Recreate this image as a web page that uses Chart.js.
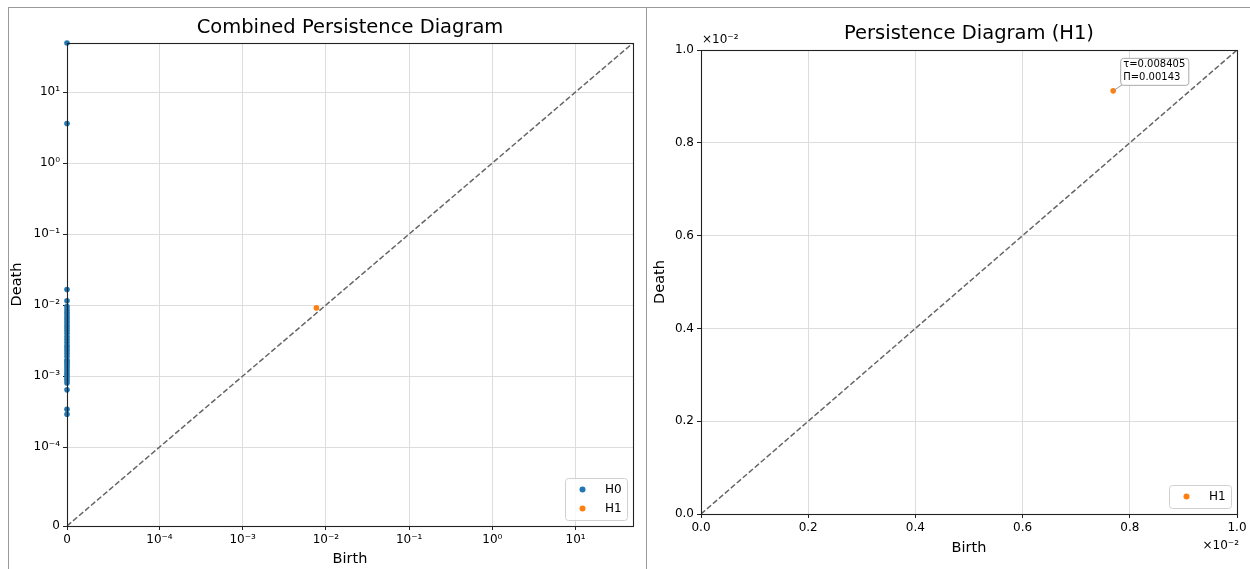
<!DOCTYPE html>
<html>
<head>
<meta charset="utf-8">
<script src="https://cdn.jsdelivr.net/npm/chart.js@4.4.1/dist/chart.umd.min.js"></script>
<style>
  body { margin: 0; background: #fff; width: 1250px; height: 569px; overflow: hidden; position: relative; }
  .line { position: absolute; background: #9a9a9a; }
  .panel { position: absolute; top: 8px; }
</style>
</head>
<body>
<div class="line" style="left:8px;top:7px;width:1242px;height:1px"></div>
<div class="line" style="left:8px;top:7px;width:1px;height:562px"></div>
<div class="line" style="left:646px;top:7px;width:1px;height:562px"></div>
<div class="panel" style="left:9px"><canvas id="combined" width="636" height="561"></canvas></div>
<div class="panel" style="left:647px"><canvas id="h1only" width="603" height="561"></canvas></div>
<script>
// Donnees
const h0Deaths = [49, 3.6, 0.0165, 0.0115, 0.0095, 0.0086, 0.0079, 0.0073, 0.0067, 0.0062,
  0.0057, 0.0052, 0.0048, 0.0044, 0.0040, 0.0036, 0.0033, 0.0030, 0.0027, 0.0025, 0.0023,
  0.0021, 0.0019, 0.0017, 0.0016, 0.0015, 0.0014, 0.0013, 0.0012, 0.0011, 0.00102,
  0.00094, 0.00087, 0.00080, 0.00064, 0.00034, 0.00029];
const h0Births = h0Deaths.map(() => 0);
const h1Births = [0.00769];
const h1Deaths = [0.00912];

const combinedMax = 49;
const combinedTicks = [0, 1e-4, 1e-3, 1e-2, 1e-1, 1, 10];
const combinedTickLabels = ['0', '10⁻⁴', '10⁻³', '10⁻²', '10⁻¹', '10⁰', '10¹'];

const h1Max = 0.01;
const h1Ticks = [0, 0.002, 0.004, 0.006, 0.008, 0.01];
const h1TickLabels = ['0.0', '0.2', '0.4', '0.6', '0.8', '1.0'];

const BLUE = '#1f77b4';
const ORANGE = '#ff7f0e';
const FONT = '"DejaVu Sans", sans-serif';

// echelle symlog (linthresh 1e-4, comme matplotlib)
const LINTHRESH = 1e-4;
const LINSCALE = 1 / (1 - 1 / 10);
function symlog(v) {
  const a = Math.abs(v);
  if (a <= LINTHRESH) return v / LINTHRESH * LINSCALE;
  return Math.sign(v) * (LINSCALE + Math.log10(a / LINTHRESH));
}
function symexp(t) {
  const a = Math.abs(t);
  if (a <= LINSCALE) return t / LINSCALE * LINTHRESH;
  return Math.sign(t) * LINTHRESH * Math.pow(10, a - LINSCALE);
}

class SymlogScale extends Chart.LinearScale {
  static id = 'symlog';
  getPixelForValue(value) {
    const t0 = symlog(this.min), t1 = symlog(this.max);
    return this.getPixelForDecimal((symlog(value) - t0) / (t1 - t0));
  }
  getValueForPixel(pixel) {
    const t0 = symlog(this.min), t1 = symlog(this.max);
    return symexp(t0 + this.getDecimalForPixel(pixel) * (t1 - t0));
  }
}
Chart.register(SymlogScale);

function toPoints(xs, ys) {
  return xs.map((x, i) => ({ x: x, y: ys[i] }));
}

// titre, cadre, legende interne, annotations
const decorPlugin = {
  id: 'decor',
  afterDraw(chart, args, opts) {
    const ctx = chart.ctx;
    const a = chart.chartArea;
    ctx.save();
    // cadre
    ctx.strokeStyle = '#222';
    ctx.lineWidth = 1.1;
    ctx.strokeRect(Math.round(a.left) + 0.5, Math.round(a.top) + 0.5,
      Math.round(a.right - a.left), Math.round(a.bottom - a.top));
    // titre
    ctx.fillStyle = '#000';
    ctx.font = '19.5px ' + FONT;
    ctx.textAlign = 'center';
    ctx.textBaseline = 'middle';
    ctx.fillText(opts.title, (a.left + a.right) / 2, opts.titleY);

    // legende
    const items = chart.data.datasets.filter(d => d.inLegend);
    const w = 62, h = 4 + 19 * items.length;
    const bx = a.right - 6 - w, by = a.bottom - 6 - h;
    ctx.beginPath();
    ctx.roundRect(bx + 0.5, by + 0.5, w, h, 3);
    ctx.fillStyle = 'rgba(255,255,255,0.8)';
    ctx.fill();
    ctx.strokeStyle = '#d0d0d0';
    ctx.lineWidth = 1;
    ctx.stroke();
    ctx.font = '12px ' + FONT;
    ctx.textAlign = 'left';
    items.forEach((d, i) => {
      const cy = by + 11.5 + 19 * i;
      ctx.beginPath();
      ctx.arc(bx + 17.5, cy, 3, 0, Math.PI * 2);
      ctx.fillStyle = d.backgroundColor;
      ctx.fill();
      ctx.fillStyle = '#000';
      ctx.fillText(d.label, bx + 40, cy);
    });

    // facteur d'echelle x10^-2
    if (opts.offsetText) {
      ctx.font = '12px ' + FONT;
      ctx.fillStyle = '#000';
      ctx.textAlign = 'left';
      ctx.fillText(opts.offsetText, a.left + 1, a.top - 10);
      ctx.textAlign = 'right';
      ctx.fillText(opts.offsetText, a.right + 2, a.bottom + 32);
    }

    // annotation tau / Pi
    if (opts.annotate) {
      const xs = chart.scales.x, ys = chart.scales.y;
      h1Births.forEach((b, i) => {
        const d = h1Deaths[i];
        const px = xs.getPixelForValue(b), py = ys.getPixelForValue(d);
        const lines = ['τ=' + ((b + d) / 2).toFixed(6), 'Π=' + (d - b).toFixed(5)];
        ctx.font = '10px ' + FONT;
        const tw = Math.max(...lines.map(l => ctx.measureText(l).width));
        const left = px + 7, bottom = py - 6, bw = tw + 6, bh = 27;
        ctx.beginPath();
        ctx.moveTo(px, py);
        ctx.lineTo(left + 2, bottom);
        ctx.strokeStyle = '#999';
        ctx.lineWidth = 1;
        ctx.stroke();
        ctx.beginPath();
        ctx.roundRect(left + 0.5, bottom - bh + 0.5, bw, bh, 3);
        ctx.fillStyle = '#fff';
        ctx.fill();
        ctx.strokeStyle = '#aaa';
        ctx.stroke();
        ctx.fillStyle = '#000';
        ctx.textAlign = 'left';
        ctx.textBaseline = 'middle';
        ctx.fillText(lines[0], left + 3, bottom - bh + 7);
        ctx.fillText(lines[1], left + 3, bottom - bh + 19.5);
      });
    }
    ctx.restore();
  }
};

function axis(type, max, ticks, labels, titleText, titlePad, size, isX) {
  return {
    type: type,
    min: 0,
    max: max,
    afterBuildTicks: s => { s.ticks = ticks.map(v => ({ value: v })); },
    afterFit: s => { if (isX) s.height = size; else s.width = size; },
    border: { display: false },
    grid: { color: '#dddddd', lineWidth: 1, tickColor: '#222', tickLength: 4 },
    ticks: {
      autoSkip: false,
      maxRotation: 0,
      padding: 3,
      color: '#000',
      font: { family: FONT, size: 12 },
      callback: (v, i) => labels[i]
    },
    title: {
      display: true,
      text: titleText,
      color: '#000',
      font: { family: FONT, size: 14.5 },
      padding: titlePad
    }
  };
}

const commonPlugins = { legend: { display: false }, tooltip: { enabled: false } };

new Chart(document.getElementById('combined'), {
  type: 'scatter',
  data: {
    datasets: [
      { label: 'H0', inLegend: true, data: toPoints(h0Births, h0Deaths), backgroundColor: BLUE,
        pointRadius: 2.8, borderWidth: 0, clip: false },
      { label: 'H1', inLegend: true, data: toPoints(h1Births, h1Deaths), backgroundColor: ORANGE,
        pointRadius: 2.8, borderWidth: 0, clip: false },
      { label: 'diag', data: toPoints([0, combinedMax], [0, combinedMax]), showLine: true,
        pointRadius: 0, borderColor: '#666', borderWidth: 1.5, borderDash: [5.5, 2.4] }
    ]
  },
  options: {
    responsive: false,
    animation: false,
    events: [],
    layout: { padding: { top: 35, right: 12, left: 0, bottom: 0 } },
    scales: {
      x: axis('symlog', combinedMax, combinedTicks, combinedTickLabels, 'Birth', { top: 0, bottom: 1 }, 43, true),
      y: axis('symlog', combinedMax, combinedTicks, combinedTickLabels, 'Death', { top: 0, bottom: 0 }, 58, false)
    },
    plugins: Object.assign({}, commonPlugins, {
      decor: { title: 'Combined Persistence Diagram', titleY: 20 }
    })
  },
  plugins: [decorPlugin]
});

new Chart(document.getElementById('h1only'), {
  type: 'scatter',
  data: {
    datasets: [
      { label: 'H1', inLegend: true, data: toPoints(h1Births, h1Deaths), backgroundColor: ORANGE,
        pointRadius: 2.8, borderWidth: 0, clip: false },
      { label: 'diag', data: toPoints([0, h1Max], [0, h1Max]), showLine: true,
        pointRadius: 0, borderColor: '#666', borderWidth: 1.5, borderDash: [5.5, 2.4] }
    ]
  },
  options: {
    responsive: false,
    animation: false,
    events: [],
    layout: { padding: { top: 42, right: 13, left: 0, bottom: 0 } },
    scales: {
      x: axis('linear', h1Max, h1Ticks, h1TickLabels, 'Birth', { top: 0, bottom: 12 }, 55, true),
      y: axis('linear', h1Max, h1Ticks, h1TickLabels, 'Death', { top: 5, bottom: 0 }, 54, false)
    },
    plugins: Object.assign({}, commonPlugins, {
      decor: { title: 'Persistence Diagram (H1)', titleY: 26, offsetText: '×10⁻²', annotate: true }
    })
  },
  plugins: [decorPlugin]
});
</script>
</body>
</html>
